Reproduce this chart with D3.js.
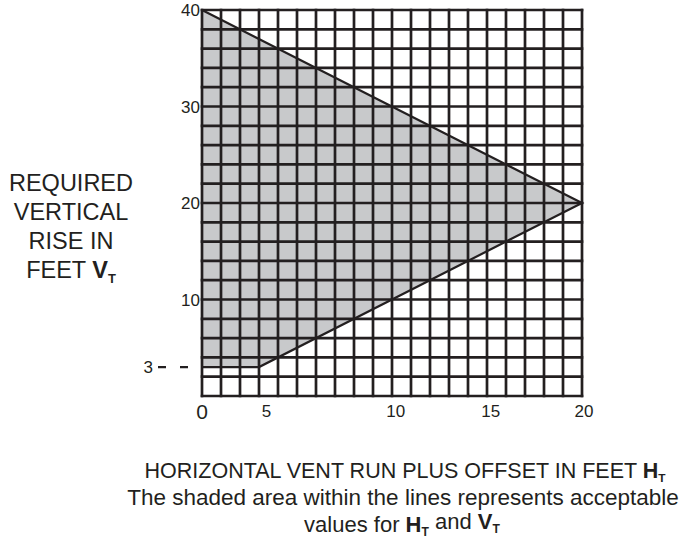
<!DOCTYPE html>
<html>
<head>
<meta charset="utf-8">
<script src="https://cdn.jsdelivr.net/npm/d3@7"></script>
<style>
  body { margin: 0; background: #fff; }
  svg { display: block; font-family: "Liberation Sans", Arial, sans-serif; }
</style>
</head>
<body>
<script>
// acceptable region boundary (H_T, V_T)
const regionH = [0, 20, 3, 0]
const regionV = [40, 20, 3, 3]
// grid
const gridH = d3.range(0, 21, 1)
const gridV = d3.range(0, 41, 2)
// tick labels
const yTicks = [40, 30, 20, 10]
const xTickLabels = ['5', '10', '15', '20']
const xTickAt = [3.4, 10.2, 15.2, 20.1] // where the labels sit in the picture
const minRise = 3

const width = 687
const height = 542
const x = d3.scaleLinear().domain([0, 20]).range([202, 582])
const y = d3.scaleLinear().domain([0, 40]).range([396, 10])
const ink = '#231f20'

const svg = d3.select('body').append('svg')
  .attr('width', width)
  .attr('height', height)

const pts = regionH.map((h, i) => [x(h), y(regionV[i])])

svg.append('path')
  .attr('d', d3.line()(pts) + 'Z')
  .attr('fill', '#c8c9cb')

const grid = svg.append('g')
  .attr('stroke', ink)
  .attr('stroke-width', 2.7)

grid.selectAll('line.v')
  .data(gridH)
  .join('line')
  .attr('class', 'v')
  .attr('x1', d => x(d)).attr('x2', d => x(d))
  .attr('y1', y(40) - 1.3).attr('y2', y(0) + 1.3)

grid.selectAll('line.h')
  .data(gridV)
  .join('line')
  .attr('class', 'h')
  .attr('x1', x(0) - 1.3).attr('x2', x(20) + 1.3)
  .attr('y1', d => y(d)).attr('y2', d => y(d))

// boundary lines
svg.append('path')
  .attr('d', d3.line()(pts))
  .attr('fill', 'none')
  .attr('stroke', ink)
  .attr('stroke-width', 2.2)

// dashed leader to the "3" label
svg.append('line')
  .attr('x1', x(0) - 44).attr('x2', x(0) - 13)
  .attr('y1', y(minRise)).attr('y2', y(minRise))
  .attr('stroke', ink)
  .attr('stroke-width', 2.2)
  .attr('stroke-dasharray', '8,14')

const label = svg.append('g').attr('fill', ink)

label.selectAll('text.yt')
  .data(yTicks)
  .join('text')
  .attr('class', 'yt')
  .attr('x', x(0) - 2)
  .attr('y', d => y(d))
  .attr('dy', '0.36em')
  .attr('text-anchor', 'end')
  .attr('font-size', 17)
  .text(d => d)

label.append('text')
  .attr('x', x(0) - 49)
  .attr('y', y(minRise))
  .attr('dy', '0.36em')
  .attr('text-anchor', 'end')
  .attr('font-size', 17)
  .text(minRise)

label.selectAll('text.xt')
  .data(xTickLabels)
  .join('text')
  .attr('class', 'xt')
  .attr('x', (d, i) => x(xTickAt[i]))
  .attr('y', 417)
  .attr('text-anchor', 'middle')
  .attr('font-size', 17)
  .text(d => d)

label.append('text')
  .attr('x', x(0))
  .attr('y', 419)
  .attr('text-anchor', 'middle')
  .attr('font-size', 21)
  .text('0')

// text with bold letter + subscript T
const withSub = (sel, pre, parts) => {
  sel.append('tspan').text(pre)
  parts.forEach(p => {
    sel.append('tspan').attr('font-weight', 'bold').text(p.bold)
    sel.append('tspan').attr('font-weight', 'bold').attr('font-size', '0.55em')
      .attr('dy', '0.35em').text('T')
    sel.append('tspan').attr('dy', '-0.35em').text(p.after || '')
  })
}

const yTitle = ['REQUIRED', 'VERTICAL', 'RISE IN']
label.selectAll('text.ylab')
  .data(yTitle)
  .join('text')
  .attr('class', 'ylab')
  .attr('x', 71)
  .attr('y', (d, i) => 191 + i * 29)
  .attr('text-anchor', 'middle')
  .attr('font-size', 23.5)
  .text(d => d)

withSub(label.append('text')
  .attr('x', 71).attr('y', 278)
  .attr('text-anchor', 'middle')
  .attr('font-size', 23.5), 'FEET ', [{ bold: 'V' }])

withSub(label.append('text')
  .attr('x', 405).attr('y', 478)
  .attr('text-anchor', 'middle')
  .attr('font-size', 21.5), 'HORIZONTAL VENT RUN PLUS OFFSET IN FEET ', [{ bold: 'H' }])

label.append('text')
  .attr('x', 403).attr('y', 505)
  .attr('text-anchor', 'middle')
  .attr('font-size', 22.5)
  .text('The shaded area within the lines represents acceptable')

withSub(label.append('text')
  .attr('x', 402).attr('y', 532)
  .attr('text-anchor', 'middle')
  .attr('font-size', 22), 'values for ', [{ bold: 'H', after: ' and ' }, { bold: 'V' }])
</script>
</body>
</html>
